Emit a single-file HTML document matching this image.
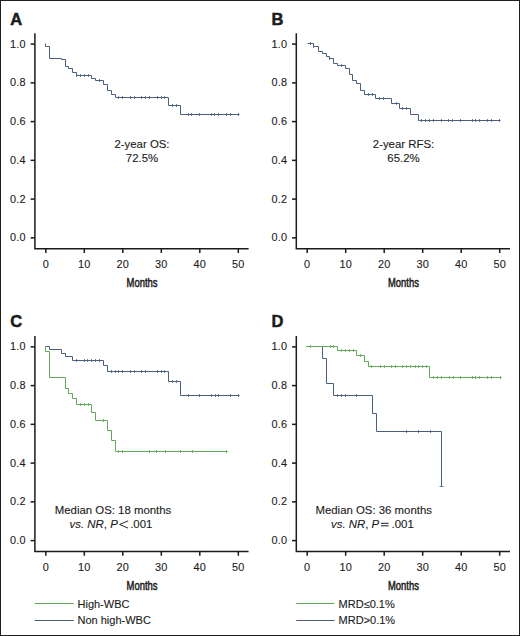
<!DOCTYPE html>
<html><head><meta charset="utf-8"><style>
html,body{margin:0;padding:0;background:#fff;}
body{width:520px;height:636px;overflow:hidden;}
svg{display:block;}
text{font-family:"Liberation Sans", sans-serif;fill:#1b1b1b;}
.t{font-size:10.9px;stroke:#1b1b1b;stroke-width:0.1px;letter-spacing:0.25px;}
.m{font-size:13.4px;stroke:#1b1b1b;stroke-width:0.55px;}
.L{font-size:16.5px;font-weight:bold;stroke:#1b1b1b;stroke-width:0.5px;}
.a{font-size:11.4px;stroke:#1b1b1b;stroke-width:0.12px;}
.g{font-size:11px;stroke:#1b1b1b;stroke-width:0.12px;}
</style></head><body>
<svg width="520" height="636" viewBox="0 0 520 636">
<rect x="0.5" y="0.5" width="519" height="635" fill="#fff" stroke="#1e1e1e" stroke-width="1"/>
<path d="M34.90 33.30 V248.70 H248.60" fill="none" stroke="#1b1b1b" stroke-width="1.5"/>
<line x1="30.60" y1="44.10" x2="34.90" y2="44.10" stroke="#1b1b1b" stroke-width="1.5"/>
<text x="25.90" y="47.70" text-anchor="end" class="t">1.0</text>
<line x1="30.60" y1="82.85" x2="34.90" y2="82.85" stroke="#1b1b1b" stroke-width="1.5"/>
<text x="25.90" y="86.45" text-anchor="end" class="t">0.8</text>
<line x1="30.60" y1="121.60" x2="34.90" y2="121.60" stroke="#1b1b1b" stroke-width="1.5"/>
<text x="25.90" y="125.20" text-anchor="end" class="t">0.6</text>
<line x1="30.60" y1="160.35" x2="34.90" y2="160.35" stroke="#1b1b1b" stroke-width="1.5"/>
<text x="25.90" y="163.95" text-anchor="end" class="t">0.4</text>
<line x1="30.60" y1="199.10" x2="34.90" y2="199.10" stroke="#1b1b1b" stroke-width="1.5"/>
<text x="25.90" y="202.70" text-anchor="end" class="t">0.2</text>
<line x1="30.60" y1="237.85" x2="34.90" y2="237.85" stroke="#1b1b1b" stroke-width="1.5"/>
<text x="25.90" y="241.45" text-anchor="end" class="t">0.0</text>
<line x1="45.80" y1="248.70" x2="45.80" y2="253.00" stroke="#1b1b1b" stroke-width="1.5"/>
<text x="45.80" y="267.90" text-anchor="middle" class="t">0</text>
<line x1="84.30" y1="248.70" x2="84.30" y2="253.00" stroke="#1b1b1b" stroke-width="1.5"/>
<text x="84.30" y="267.90" text-anchor="middle" class="t">10</text>
<line x1="122.80" y1="248.70" x2="122.80" y2="253.00" stroke="#1b1b1b" stroke-width="1.5"/>
<text x="122.80" y="267.90" text-anchor="middle" class="t">20</text>
<line x1="161.30" y1="248.70" x2="161.30" y2="253.00" stroke="#1b1b1b" stroke-width="1.5"/>
<text x="161.30" y="267.90" text-anchor="middle" class="t">30</text>
<line x1="199.80" y1="248.70" x2="199.80" y2="253.00" stroke="#1b1b1b" stroke-width="1.5"/>
<text x="199.80" y="267.90" text-anchor="middle" class="t">40</text>
<line x1="238.30" y1="248.70" x2="238.30" y2="253.00" stroke="#1b1b1b" stroke-width="1.5"/>
<text x="238.30" y="267.90" text-anchor="middle" class="t">50</text>
<text transform="translate(126.60 286.80) scale(0.705 1)" class="m">Months</text>
<text x="10.20" y="24.50" class="L">A</text>
<path d="M296.30 33.30 V248.70 H510.00" fill="none" stroke="#1b1b1b" stroke-width="1.5"/>
<line x1="292.00" y1="44.10" x2="296.30" y2="44.10" stroke="#1b1b1b" stroke-width="1.5"/>
<text x="287.30" y="47.70" text-anchor="end" class="t">1.0</text>
<line x1="292.00" y1="82.85" x2="296.30" y2="82.85" stroke="#1b1b1b" stroke-width="1.5"/>
<text x="287.30" y="86.45" text-anchor="end" class="t">0.8</text>
<line x1="292.00" y1="121.60" x2="296.30" y2="121.60" stroke="#1b1b1b" stroke-width="1.5"/>
<text x="287.30" y="125.20" text-anchor="end" class="t">0.6</text>
<line x1="292.00" y1="160.35" x2="296.30" y2="160.35" stroke="#1b1b1b" stroke-width="1.5"/>
<text x="287.30" y="163.95" text-anchor="end" class="t">0.4</text>
<line x1="292.00" y1="199.10" x2="296.30" y2="199.10" stroke="#1b1b1b" stroke-width="1.5"/>
<text x="287.30" y="202.70" text-anchor="end" class="t">0.2</text>
<line x1="292.00" y1="237.85" x2="296.30" y2="237.85" stroke="#1b1b1b" stroke-width="1.5"/>
<text x="287.30" y="241.45" text-anchor="end" class="t">0.0</text>
<line x1="307.20" y1="248.70" x2="307.20" y2="253.00" stroke="#1b1b1b" stroke-width="1.5"/>
<text x="307.20" y="267.90" text-anchor="middle" class="t">0</text>
<line x1="345.70" y1="248.70" x2="345.70" y2="253.00" stroke="#1b1b1b" stroke-width="1.5"/>
<text x="345.70" y="267.90" text-anchor="middle" class="t">10</text>
<line x1="384.20" y1="248.70" x2="384.20" y2="253.00" stroke="#1b1b1b" stroke-width="1.5"/>
<text x="384.20" y="267.90" text-anchor="middle" class="t">20</text>
<line x1="422.70" y1="248.70" x2="422.70" y2="253.00" stroke="#1b1b1b" stroke-width="1.5"/>
<text x="422.70" y="267.90" text-anchor="middle" class="t">30</text>
<line x1="461.20" y1="248.70" x2="461.20" y2="253.00" stroke="#1b1b1b" stroke-width="1.5"/>
<text x="461.20" y="267.90" text-anchor="middle" class="t">40</text>
<line x1="499.70" y1="248.70" x2="499.70" y2="253.00" stroke="#1b1b1b" stroke-width="1.5"/>
<text x="499.70" y="267.90" text-anchor="middle" class="t">50</text>
<text transform="translate(388.00 286.80) scale(0.705 1)" class="m">Months</text>
<text x="271.60" y="24.50" class="L">B</text>
<path d="M34.90 336.05 V551.45 H248.60" fill="none" stroke="#1b1b1b" stroke-width="1.5"/>
<line x1="30.60" y1="346.85" x2="34.90" y2="346.85" stroke="#1b1b1b" stroke-width="1.5"/>
<text x="25.90" y="350.45" text-anchor="end" class="t">1.0</text>
<line x1="30.60" y1="385.60" x2="34.90" y2="385.60" stroke="#1b1b1b" stroke-width="1.5"/>
<text x="25.90" y="389.20" text-anchor="end" class="t">0.8</text>
<line x1="30.60" y1="424.35" x2="34.90" y2="424.35" stroke="#1b1b1b" stroke-width="1.5"/>
<text x="25.90" y="427.95" text-anchor="end" class="t">0.6</text>
<line x1="30.60" y1="463.10" x2="34.90" y2="463.10" stroke="#1b1b1b" stroke-width="1.5"/>
<text x="25.90" y="466.70" text-anchor="end" class="t">0.4</text>
<line x1="30.60" y1="501.85" x2="34.90" y2="501.85" stroke="#1b1b1b" stroke-width="1.5"/>
<text x="25.90" y="505.45" text-anchor="end" class="t">0.2</text>
<line x1="30.60" y1="540.60" x2="34.90" y2="540.60" stroke="#1b1b1b" stroke-width="1.5"/>
<text x="25.90" y="544.20" text-anchor="end" class="t">0.0</text>
<line x1="45.80" y1="551.45" x2="45.80" y2="555.75" stroke="#1b1b1b" stroke-width="1.5"/>
<text x="45.80" y="570.65" text-anchor="middle" class="t">0</text>
<line x1="84.30" y1="551.45" x2="84.30" y2="555.75" stroke="#1b1b1b" stroke-width="1.5"/>
<text x="84.30" y="570.65" text-anchor="middle" class="t">10</text>
<line x1="122.80" y1="551.45" x2="122.80" y2="555.75" stroke="#1b1b1b" stroke-width="1.5"/>
<text x="122.80" y="570.65" text-anchor="middle" class="t">20</text>
<line x1="161.30" y1="551.45" x2="161.30" y2="555.75" stroke="#1b1b1b" stroke-width="1.5"/>
<text x="161.30" y="570.65" text-anchor="middle" class="t">30</text>
<line x1="199.80" y1="551.45" x2="199.80" y2="555.75" stroke="#1b1b1b" stroke-width="1.5"/>
<text x="199.80" y="570.65" text-anchor="middle" class="t">40</text>
<line x1="238.30" y1="551.45" x2="238.30" y2="555.75" stroke="#1b1b1b" stroke-width="1.5"/>
<text x="238.30" y="570.65" text-anchor="middle" class="t">50</text>
<text transform="translate(126.60 590.15) scale(0.705 1)" class="m">Months</text>
<text x="10.20" y="327.25" class="L">C</text>
<path d="M296.30 336.05 V551.45 H510.00" fill="none" stroke="#1b1b1b" stroke-width="1.5"/>
<line x1="292.00" y1="346.85" x2="296.30" y2="346.85" stroke="#1b1b1b" stroke-width="1.5"/>
<text x="287.30" y="350.45" text-anchor="end" class="t">1.0</text>
<line x1="292.00" y1="385.60" x2="296.30" y2="385.60" stroke="#1b1b1b" stroke-width="1.5"/>
<text x="287.30" y="389.20" text-anchor="end" class="t">0.8</text>
<line x1="292.00" y1="424.35" x2="296.30" y2="424.35" stroke="#1b1b1b" stroke-width="1.5"/>
<text x="287.30" y="427.95" text-anchor="end" class="t">0.6</text>
<line x1="292.00" y1="463.10" x2="296.30" y2="463.10" stroke="#1b1b1b" stroke-width="1.5"/>
<text x="287.30" y="466.70" text-anchor="end" class="t">0.4</text>
<line x1="292.00" y1="501.85" x2="296.30" y2="501.85" stroke="#1b1b1b" stroke-width="1.5"/>
<text x="287.30" y="505.45" text-anchor="end" class="t">0.2</text>
<line x1="292.00" y1="540.60" x2="296.30" y2="540.60" stroke="#1b1b1b" stroke-width="1.5"/>
<text x="287.30" y="544.20" text-anchor="end" class="t">0.0</text>
<line x1="307.20" y1="551.45" x2="307.20" y2="555.75" stroke="#1b1b1b" stroke-width="1.5"/>
<text x="307.20" y="570.65" text-anchor="middle" class="t">0</text>
<line x1="345.70" y1="551.45" x2="345.70" y2="555.75" stroke="#1b1b1b" stroke-width="1.5"/>
<text x="345.70" y="570.65" text-anchor="middle" class="t">10</text>
<line x1="384.20" y1="551.45" x2="384.20" y2="555.75" stroke="#1b1b1b" stroke-width="1.5"/>
<text x="384.20" y="570.65" text-anchor="middle" class="t">20</text>
<line x1="422.70" y1="551.45" x2="422.70" y2="555.75" stroke="#1b1b1b" stroke-width="1.5"/>
<text x="422.70" y="570.65" text-anchor="middle" class="t">30</text>
<line x1="461.20" y1="551.45" x2="461.20" y2="555.75" stroke="#1b1b1b" stroke-width="1.5"/>
<text x="461.20" y="570.65" text-anchor="middle" class="t">40</text>
<line x1="499.70" y1="551.45" x2="499.70" y2="555.75" stroke="#1b1b1b" stroke-width="1.5"/>
<text x="499.70" y="570.65" text-anchor="middle" class="t">50</text>
<text transform="translate(388.00 590.15) scale(0.705 1)" class="m">Months</text>
<text x="271.60" y="327.25" class="L">D</text>
<path d="M45.50 43.50 H45.50 V46.50 H49.50 V58.50 H61.50 V59.50 H65.50 V66.50 H68.50 V68.50 H72.50 V72.50 H76.50 V75.50 H91.50 V78.50 H95.50 V80.50 H103.50 V84.50 H107.50 V90.50 H111.50 V94.50 H115.50 V97.50 H168.50 V105.50 H180.50 V114.50 H239.50" fill="none" stroke="#4a5f7e" stroke-width="1"/>
<path d="M76.50 74.00V77.00M80.50 74.00V77.00M84.50 74.00V77.00M88.50 74.00V77.00M99.50 79.00V82.00M118.50 96.00V99.00M122.50 96.00V99.00M130.50 96.00V99.00M134.50 96.00V99.00M141.50 96.00V99.00M145.50 96.00V99.00M149.50 96.00V99.00M157.50 96.00V99.00M161.50 96.00V99.00M164.50 96.00V99.00M172.50 104.00V107.00M176.50 104.00V107.00M188.50 113.00V116.00M191.50 113.00V116.00M199.50 113.00V116.00M211.50 113.00V116.00M214.50 113.00V116.00M218.50 113.00V116.00M226.50 113.00V116.00M230.50 113.00V116.00M238.50 113.00V116.00" fill="none" stroke="#4a5f7e" stroke-width="0.8"/>
<path d="M307.50 43.50 H313.50 V46.50 H318.50 V51.50 H322.50 V53.50 H326.50 V56.50 H329.50 V58.50 H333.50 V63.50 H337.50 V65.50 H345.50 V68.50 H349.50 V74.50 H352.50 V80.50 H356.50 V83.50 H360.50 V90.50 H364.50 V94.50 H375.50 V98.50 H391.50 V103.50 H399.50 V108.50 H410.50 V114.50 H418.50 V120.50 H500.50" fill="none" stroke="#4a5f7e" stroke-width="1"/>
<path d="M310.50 42.00V45.00M313.50 45.00V48.00M329.50 57.00V60.00M341.50 64.00V67.00M368.50 93.00V96.00M372.50 93.00V96.00M379.50 97.00V100.00M383.50 97.00V100.00M396.50 102.00V105.00M402.50 107.00V110.00M406.50 107.00V110.00M421.50 119.00V122.00M425.50 119.00V122.00M429.50 119.00V122.00M433.50 119.00V122.00M441.50 119.00V122.00M448.50 119.00V122.00M452.50 119.00V122.00M460.50 119.00V122.00M472.50 119.00V122.00M475.50 119.00V122.00M479.50 119.00V122.00M487.50 119.00V122.00M491.50 119.00V122.00M499.50 119.00V122.00" fill="none" stroke="#4a5f7e" stroke-width="0.8"/>
<path d="M45.50 346.50 H49.50 V349.50 H61.50 V353.50 H65.50 V356.50 H72.50 V360.50 H103.50 V365.50 H107.50 V371.50 H168.50 V381.50 H180.50 V395.50 H239.50" fill="none" stroke="#4a5f7e" stroke-width="1"/>
<path d="M76.50 359.00V362.00M84.50 359.00V362.00M87.50 359.00V362.00M91.50 359.00V362.00M95.50 359.00V362.00M99.50 359.00V362.00M111.50 370.00V373.00M115.50 370.00V373.00M118.50 370.00V373.00M122.50 370.00V373.00M130.50 370.00V373.00M134.50 370.00V373.00M141.50 370.00V373.00M145.50 370.00V373.00M157.50 370.00V373.00M161.50 370.00V373.00M164.50 370.00V373.00M172.50 380.00V383.00M176.50 380.00V383.00M188.50 394.00V397.00M199.50 394.00V397.00M211.50 394.00V397.00M215.50 394.00V397.00M218.50 394.00V397.00M230.50 394.00V397.00M238.50 394.00V397.00" fill="none" stroke="#4a5f7e" stroke-width="0.8"/>
<path d="M45.50 346.50 H45.50 V351.50 H49.50 V377.50 H65.50 V388.50 H68.50 V393.50 H72.50 V398.50 H76.50 V404.50 H91.50 V412.50 H95.50 V420.50 H107.50 V430.50 H111.50 V440.50 H115.50 V451.50 H227.50" fill="none" stroke="#62aa5a" stroke-width="1"/>
<path d="M80.50 403.00V406.00M84.50 403.00V406.00M88.50 403.00V406.00M103.50 419.00V422.00M118.50 450.00V453.00M122.50 450.00V453.00M149.50 450.00V453.00M156.50 450.00V453.00M165.50 450.00V453.00M180.50 450.00V453.00M192.50 450.00V453.00M226.50 450.00V453.00" fill="none" stroke="#62aa5a" stroke-width="0.8"/>
<path d="M306.50 346.50 H322.50 V358.50 H326.50 V383.50 H333.50 V395.50 H372.50 V413.50 H376.50 V431.50 H441.50 V486.50 H441.50" fill="none" stroke="#4a5f7e" stroke-width="1"/>
<path d="M337.50 394.00V397.00M341.50 394.00V397.00M345.50 394.00V397.00M356.50 394.00V397.00M406.50 430.00V433.00M418.50 430.00V433.00M430.50 430.00V433.00M439.50 486.50H443.50" fill="none" stroke="#4a5f7e" stroke-width="0.8"/>
<path d="M306.50 346.50 H337.50 V350.50 H356.50 V355.50 H364.50 V361.50 H368.50 V366.50 H429.50 V377.50 H501.50" fill="none" stroke="#62aa5a" stroke-width="1"/>
<path d="M310.50 345.00V348.00M330.50 345.00V348.00M333.50 345.00V348.00M341.50 349.00V352.00M345.50 349.00V352.00M349.50 349.00V352.00M353.50 349.00V352.00M360.50 354.00V357.00M371.50 365.00V368.00M380.50 365.00V368.00M384.50 365.00V368.00M391.50 365.00V368.00M395.50 365.00V368.00M402.50 365.00V368.00M406.50 365.00V368.00M410.50 365.00V368.00M415.50 365.00V368.00M418.50 365.00V368.00M422.50 365.00V368.00M426.50 365.00V368.00M433.50 376.00V379.00M437.50 376.00V379.00M441.50 376.00V379.00M449.50 376.00V379.00M453.50 376.00V379.00M460.50 376.00V379.00M472.50 376.00V379.00M475.50 376.00V379.00M479.50 376.00V379.00M487.50 376.00V379.00M491.50 376.00V379.00M500.50 376.00V379.00" fill="none" stroke="#62aa5a" stroke-width="0.8"/>
<text x="142" y="148.2" text-anchor="middle" class="a">2-year OS:</text>
<text x="142" y="162.0" text-anchor="middle" class="a">72.5%</text>
<text x="403.5" y="148.2" text-anchor="middle" class="a">2-year RFS:</text>
<text x="403.5" y="162.0" text-anchor="middle" class="a">65.2%</text>
<text x="113" y="513.9" text-anchor="middle" class="a">Median OS: 18 months</text>
<text x="69.6" y="528.0" class="a"><tspan font-style="italic">vs.</tspan> <tspan font-style="italic">NR</tspan>, <tspan font-style="italic">P</tspan></text>
<path d="M128.1 520.9 L119.6 524.5 L128.1 528.1" fill="none" stroke="#1b1b1b" stroke-width="0.95"/>
<text x="130.2" y="528.0" class="a">.001</text>
<text x="373.7" y="513.9" text-anchor="middle" class="a">Median OS: 36 months</text>
<text x="331.0" y="528.0" class="a"><tspan font-style="italic">vs.</tspan> <tspan font-style="italic">NR</tspan>, <tspan font-style="italic">P</tspan></text>
<path d="M380.9 523.3 H388.6 M380.9 525.8 H388.6" fill="none" stroke="#1b1b1b" stroke-width="1"/>
<text x="391.6" y="528.0" class="a">.001</text>
<line x1="34.8" y1="603.5" x2="73.8" y2="603.5" stroke="#62aa5a" stroke-width="1.1"/>
<line x1="34.8" y1="620.5" x2="73.8" y2="620.5" stroke="#4a5f7e" stroke-width="1.1"/>
<text x="77.5" y="607.7" class="g">High-WBC</text>
<text x="77.5" y="623.9" class="g">Non high-WBC</text>
<line x1="296.2" y1="603.5" x2="334.6" y2="603.5" stroke="#62aa5a" stroke-width="1.1"/>
<line x1="296.2" y1="620.5" x2="334.6" y2="620.5" stroke="#4a5f7e" stroke-width="1.1"/>
<text x="338.6" y="607.7" class="g">MRD≤0.1%</text>
<text x="338.6" y="623.9" class="g">MRD&gt;0.1%</text>
</svg>
</body></html>
